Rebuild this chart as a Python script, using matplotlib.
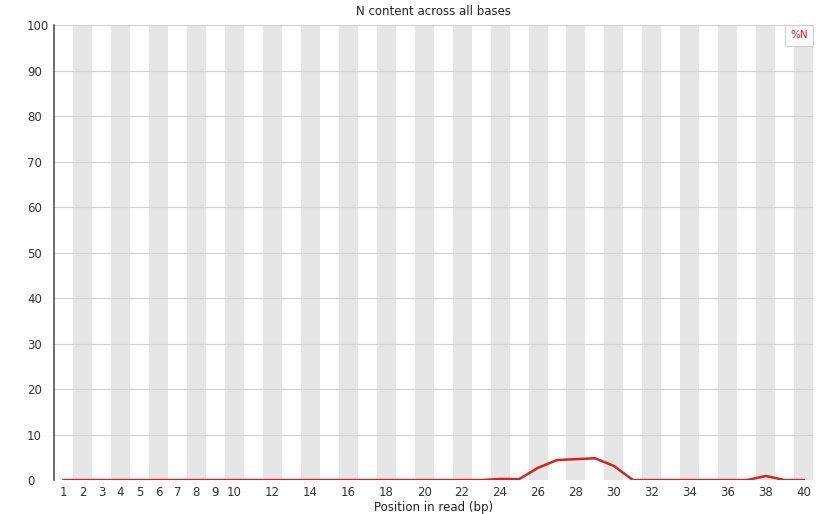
import matplotlib.pyplot as plt

# N content per base position
positions = list(range(1, 41))
n_percent = [0, 0, 0, 0, 0, 0, 0, 0, 0, 0,
             0, 0, 0, 0, 0, 0, 0, 0, 0, 0,
             0, 0, 0, 0.25, 0.2, 2.7, 4.4, 4.6, 4.8, 3.1,
             0, 0, 0, 0, 0, 0, 0, 0.9, 0, 0]
tick_labels = ["1", "2", "3", "4", "5", "6", "7", "8", "9", "10",
               "12", "14", "16", "18", "20", "22", "24", "26", "28", "30",
               "32", "34", "36", "38", "40"]
tick_positions = [int(t) for t in tick_labels]

fig = plt.figure(figsize=(8.28, 5.14), dpi=100)
ax = fig.add_axes([0.0652, 0.066, 0.917, 0.885])

# alternating grey columns behind the data
for p in positions:
    if p % 2 == 0:
        ax.axvspan(p - 0.5, p + 0.5, color="#e6e6e6", lw=0, zorder=0)

for y in range(10, 101, 10):
    ax.axhline(y, color="#d2d2d2", lw=0.8, zorder=1)

ax.plot(positions, n_percent, color="#dc2020", lw=1.8, zorder=3, label="%N")

ax.set_xlim(0.5, 40.5)
ax.set_ylim(0, 100)
ax.set_yticks(range(0, 101, 10))
ax.set_xticks(tick_positions)
ax.set_xticklabels(tick_labels)
ax.tick_params(axis="both", length=0, labelsize=8.5, colors="#333333", pad=4)
# y labels are left-aligned in a fixed column
ax.tick_params(axis="y", pad=19.5)
for lbl in ax.get_yticklabels():
    lbl.set_horizontalalignment("left")

for side in ["top", "right", "bottom"]:
    ax.spines[side].set_visible(False)
ax.spines["left"].set_color("#555555")
ax.spines["left"].set_linewidth(1.2)

ax.set_title("N content across all bases", fontsize=8.5, color="#222222", pad=7)
ax.set_xlabel("Position in read (bp)", fontsize=8.5, color="#222222", labelpad=2)

leg = ax.legend(loc="upper right", handlelength=0, handletextpad=0,
                fontsize=7.5, frameon=True, fancybox=False,
                borderpad=0.5, borderaxespad=0)
leg.get_frame().set_edgecolor("#c8c8c8")
leg.get_frame().set_linewidth(0.8)
for txt in leg.get_texts():
    txt.set_color("#dc2020")
for h in leg.legend_handles:
    h.set_visible(False)

fig.savefig("out.png", dpi=100)
